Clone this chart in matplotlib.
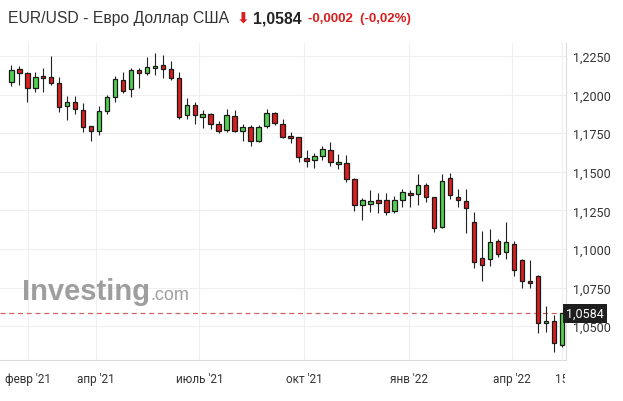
import matplotlib
matplotlib.use("Agg")
import matplotlib.pyplot as plt
import matplotlib.dates as mdates
from matplotlib.ticker import FixedLocator, FuncFormatter
from matplotlib.transforms import Bbox, TransformedBbox
import numpy as np
import pandas as pd

# weekly EUR/USD candles
dates = pd.date_range("2021-01-17", periods=70, freq="7D")
opens = [1.2084, 1.2166, 1.2140, 1.2041, 1.2119, 1.2112, 1.2075, 1.1924, 1.1950, 1.1898,
         1.1795, 1.1762, 1.1892, 1.1983, 1.2093, 1.2034, 1.2157, 1.2138, 1.2170, 1.2192,
         1.2164, 1.2106, 1.1866, 1.1933, 1.1857, 1.1872, 1.1808, 1.1773, 1.1860, 1.1762,
         1.1788, 1.1698, 1.1795, 1.1879, 1.1808, 1.1730, 1.1723, 1.1587, 1.1575, 1.1600,
         1.1639, 1.1549, 1.1555, 1.1451, 1.1287, 1.1293, 1.1315, 1.1315, 1.1244, 1.1315,
         1.1361, 1.1354, 1.1412, 1.1337, 1.1141, 1.1460, 1.1337, 1.1311, 1.1176, 1.0943,
         1.0937, 1.1051, 1.0983, 1.1030, 1.0926, 1.0794, 1.0827, 1.0520, 1.0536, 1.0378]
highs = [1.2192, 1.2187, 1.2145, 1.2145, 1.2170, 1.2248, 1.2112, 1.1993, 1.1989, 1.1946,
         1.1795, 1.1924, 1.1997, 1.2119, 1.2148, 1.2174, 1.2174, 1.2242, 1.2268, 1.2257,
         1.2216, 1.2145, 1.1976, 1.1950, 1.1902, 1.1879, 1.1829, 1.1905, 1.1898, 1.1808,
         1.1801, 1.1801, 1.1905, 1.1885, 1.1840, 1.1756, 1.1726, 1.1639, 1.1624, 1.1665,
         1.1691, 1.1613, 1.1607, 1.1458, 1.1332, 1.1382, 1.1361, 1.1361, 1.1341, 1.1387,
         1.1380, 1.1484, 1.1429, 1.1340, 1.1484, 1.1491, 1.1386, 1.1386, 1.1239, 1.1117,
         1.1130, 1.1062, 1.1176, 1.1051, 1.0935, 1.0926, 1.0830, 1.0628, 1.0571, 1.0586]
lows = [1.2054, 1.2062, 1.1950, 1.2019, 1.2019, 1.2062, 1.1889, 1.1836, 1.1872, 1.1760,
        1.1701, 1.1738, 1.1872, 1.1950, 1.2010, 1.1983, 1.2045, 1.2129, 1.2129, 1.2106,
        1.2097, 1.1842, 1.1842, 1.1808, 1.1782, 1.1775, 1.1749, 1.1760, 1.1756, 1.1701,
        1.1665, 1.1691, 1.1782, 1.1801, 1.1717, 1.1685, 1.1562, 1.1529, 1.1523, 1.1575,
        1.1536, 1.1516, 1.1432, 1.1248, 1.1186, 1.1238, 1.1231, 1.1218, 1.1231, 1.1270,
        1.1270, 1.1283, 1.1302, 1.1112, 1.1133, 1.1324, 1.1272, 1.1101, 1.0878, 1.0794,
        1.0891, 1.0950, 1.0935, 1.0825, 1.0746, 1.0746, 1.0459, 1.0461, 1.0330, 1.0367]
closes = [1.2161, 1.2138, 1.2041, 1.2112, 1.2106, 1.2073, 1.1918, 1.1950, 1.1905, 1.1792,
          1.1762, 1.1892, 1.1983, 1.2099, 1.2021, 1.2157, 1.2138, 1.2177, 1.2185, 1.2164,
          1.2106, 1.1857, 1.1933, 1.1866, 1.1872, 1.1808, 1.1766, 1.1866, 1.1762, 1.1788,
          1.1698, 1.1788, 1.1879, 1.1814, 1.1723, 1.1717, 1.1594, 1.1568, 1.1600, 1.1646,
          1.1562, 1.1562, 1.1451, 1.1287, 1.1315, 1.1309, 1.1300, 1.1238, 1.1315, 1.1367,
          1.1348, 1.1413, 1.1337, 1.1133, 1.1440, 1.1347, 1.1315, 1.1266, 1.0915, 1.0897,
          1.1044, 1.0970, 1.1044, 1.0864, 1.0794, 1.0778, 1.0520, 1.0536, 1.0391, 1.0584]

y_ticks = [1.05, 1.075, 1.10, 1.125, 1.15, 1.175, 1.20, 1.225]
x_tick_dates = ["2021-02-01", "2021-04-01", "2021-07-01", "2021-10-01",
                "2022-01-01", "2022-04-01", "2022-05-15"]
x_tick_labels = ["февр '21", "апр '21", "июль '21", "окт '21", "янв '22", "апр '22", "15"]
last_price = 1.0584

GREEN = "#52d052"
RED = "#d81f1f"
TXT = "#333333"

fig = plt.figure(figsize=(6.23, 4.02), dpi=100)
ax = fig.add_axes([0, 41 / 402, 565.7 / 623, 317 / 402])

x = mdates.date2num(dates)
o = np.array(opens); h = np.array(highs); l = np.array(lows); c = np.array(closes)
up = c >= o
cols = np.where(up, GREEN, RED)

ax.vlines(x, l, h, color="#222222", linewidth=0.8, zorder=2)
ax.bar(x, np.maximum(np.abs(c - o), 0.0002), bottom=np.minimum(o, c), width=4.0,
       color=cols, edgecolor="#1a1a1a", linewidth=0.9, zorder=3)

ax.set_xlim(x[0] - 9.9, x[-1] + 3.4)
ax.set_ylim(1.02811, 1.23342)

# last price line
ax.axhline(last_price, color="#d06464", linewidth=0.9, dashes=(4, 3), zorder=1)

# axes styling
for s in ["top", "left"]:
    ax.spines[s].set_visible(False)
for s in ["bottom", "right"]:
    ax.spines[s].set_color("#dcdcdc")
    ax.spines[s].set_linewidth(0.8)

ax.yaxis.tick_right()
ax.yaxis.set_major_locator(FixedLocator(y_ticks))
ax.yaxis.set_major_formatter(FuncFormatter(lambda v, p: f"{v:.4f}".replace(".", ",")))
ax.tick_params(axis="y", length=0, pad=5, labelsize=9, labelcolor=TXT)
for t in ax.get_yticklabels():
    t.set_fontfamily("Roboto")

xt = mdates.date2num(pd.to_datetime(x_tick_dates))
ax.set_xticks(xt)
ax.set_xticklabels(x_tick_labels)
ax.tick_params(axis="x", length=0, pad=9, labelsize=8.5, labelcolor=TXT)
for t in ax.get_xticklabels():
    t.set_fontfamily("Roboto")
# the last date label is cut at the price scale
clip = TransformedBbox(Bbox([[0, 0], [564.5 / 623, 1]]), fig.transFigure)
last_lbl = ax.get_xticklabels()[-1]
last_lbl.set_clip_box(clip)
last_lbl.set_clip_on(True)

ax.grid(True, color="#efefef", linewidth=0.8, zorder=0)
ax.set_axisbelow(True)

# price tag on the right scale
ax.text(1.0, last_price, "1,0584", transform=ax.get_yaxis_transform(),
        ha="left", va="center", color="white", fontsize=9, family="Roboto",
        bbox=dict(boxstyle="square,pad=0.25", fc="#1e1e1e", ec="none"), zorder=5,
        clip_on=False)

# watermark
fig.text(22 / 623, 1 - 300 / 402, "Investing", fontsize=21, fontweight="bold",
         family="Liberation Sans", color="#9e9e9e", va="baseline")
fig.text(150 / 623, 1 - 300 / 402, ".com", fontsize=13, family="Liberation Sans",
         color="#9e9e9e", va="baseline")

# header
ty = 1 - 19 / 402
fig.text(8 / 623, ty, "EUR/USD - Евро Доллар США", fontsize=11.3,
         family="Liberation Sans", color=TXT, va="center")
fig.text(237 / 623, ty, "\u2b07", fontsize=11, fontweight="bold", family="DejaVu Sans",
         color=RED, va="center")
fig.text(253 / 623, ty, "1,0584", fontsize=11.3, fontweight="bold",
         family="Liberation Sans", color="#222222", va="center")
fig.text(308 / 623, ty, "-0,0002  (-0,02%)", fontsize=9.5, fontweight="bold",
         family="Liberation Sans", color=RED, va="center")

fig.savefig("out.png", dpi=100)
